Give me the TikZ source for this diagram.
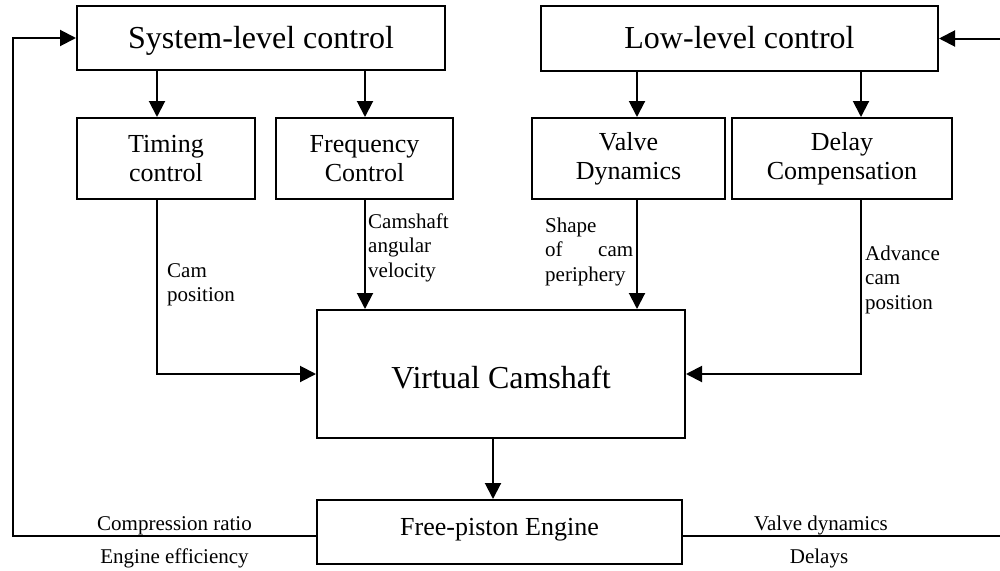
\documentclass[tikz,border=0pt]{standalone}
\usepackage{fontspec}
\setmainfont{Liberation Serif}
\usetikzlibrary{arrows.meta}
\begin{document}
\begin{tikzpicture}[x=1pt,y=-1pt,
  box/.style={draw, line width=2pt, inner sep=0pt, align=center},
  bigbox/.style={box, font=\fontsize{32}{36}\selectfont},
  midbox/.style={box, font=\fontsize{26}{29}\selectfont},
  arr/.style={line width=2pt, -{Triangle[length=16pt,width=16pt]}},
  lbl/.style={font=\fontsize{21}{24.5}\selectfont, inner sep=0pt},
]
\useasboundingbox (0,0) rectangle (1000,570);

% boxes
\node[bigbox, minimum width=368pt, minimum height=64pt, text height=24pt, text depth=4pt] (SLC) at (261,38) {System-level control};
\node[bigbox, minimum width=397pt, minimum height=65pt, text height=24pt, text depth=4pt] (LLC) at (739.5,38.5) {Low-level control};
\node[midbox, minimum width=178pt, minimum height=81pt] (TC) at (166,158.5) {Timing\\control};
\node[midbox, minimum width=177pt, minimum height=81pt] (FC) at (364.5,158.5) {Frequency\\Control};
\node[midbox, minimum width=193pt, minimum height=81pt] (VD) at (628.5,158.5) {Valve\\Dynamics};
\node[midbox, minimum width=220pt, minimum height=81pt] (DC) at (842,158.5) {Delay\\Compensation};
\node[bigbox, minimum width=368pt, minimum height=128pt, text height=30pt, text depth=2pt] (VC) at (501,374) {Virtual Camshaft};
\node[midbox, minimum width=365pt, minimum height=64pt, text height=20pt, text depth=14pt] (FE) at (499.5,532) {Free-piston Engine};

% arrow x positions
\coordinate (xa) at (157,0);
\coordinate (xb) at (365,0);
\coordinate (xc) at (637,0);
\coordinate (xd) at (861,0);
\coordinate (xe) at (493,0);
\coordinate (fbL) at (13,536);
\coordinate (fbR) at (1004,536);

% top-level arrows
\draw[arr] (SLC.south -| xa) -- (TC.north -| xa);
\draw[arr] (SLC.south -| xb) -- (FC.north -| xb);
\draw[arr] (LLC.south -| xc) -- (VD.north -| xc);
\draw[arr] (LLC.south -| xd) -- (DC.north -| xd);

% into virtual camshaft
\draw[arr] (TC.south -| xa) |- (VC.west);
\draw[arr] (FC.south -| xb) -- (VC.north -| xb);
\draw[arr] (VD.south -| xc) -- (VC.north -| xc);
\draw[arr] (DC.south -| xd) |- (VC.east);

% to engine
\draw[arr] (VC.south -| xe) -- (FE.north -| xe);

% feedback
\draw[arr] (FE.west |- fbL) -- (fbL) |- (SLC.west);
\draw[arr] (FE.east |- fbR) -- (fbR) |- (LLC.east);

% labels
\node[lbl, text width=90pt, align=left, anchor=base west] (l1) at (167,277) {Cam\\position};
\node[lbl, text width=90pt, align=left, anchor=base west] (l2) at (368,228) {Camshaft\\angular\\velocity};
\node[lbl, text width=88pt, align=left, anchor=base west] (l3) at (545,232) {Shape\\of\hfill cam\\periphery};
\node[lbl, text width=90pt, align=left, anchor=base west] (l4) at (865,260) {Advance\\cam\\position};

\node[lbl, anchor=base] (l5) at (174.5,530) {Compression ratio};
\node[lbl, anchor=base] (l6) at (174.5,563) {Engine efficiency};
\node[lbl, anchor=base] (l7) at (821,530) {Valve dynamics};
\node[lbl, anchor=base] (l8) at (819,563) {Delays};
\end{tikzpicture}
\end{document}
